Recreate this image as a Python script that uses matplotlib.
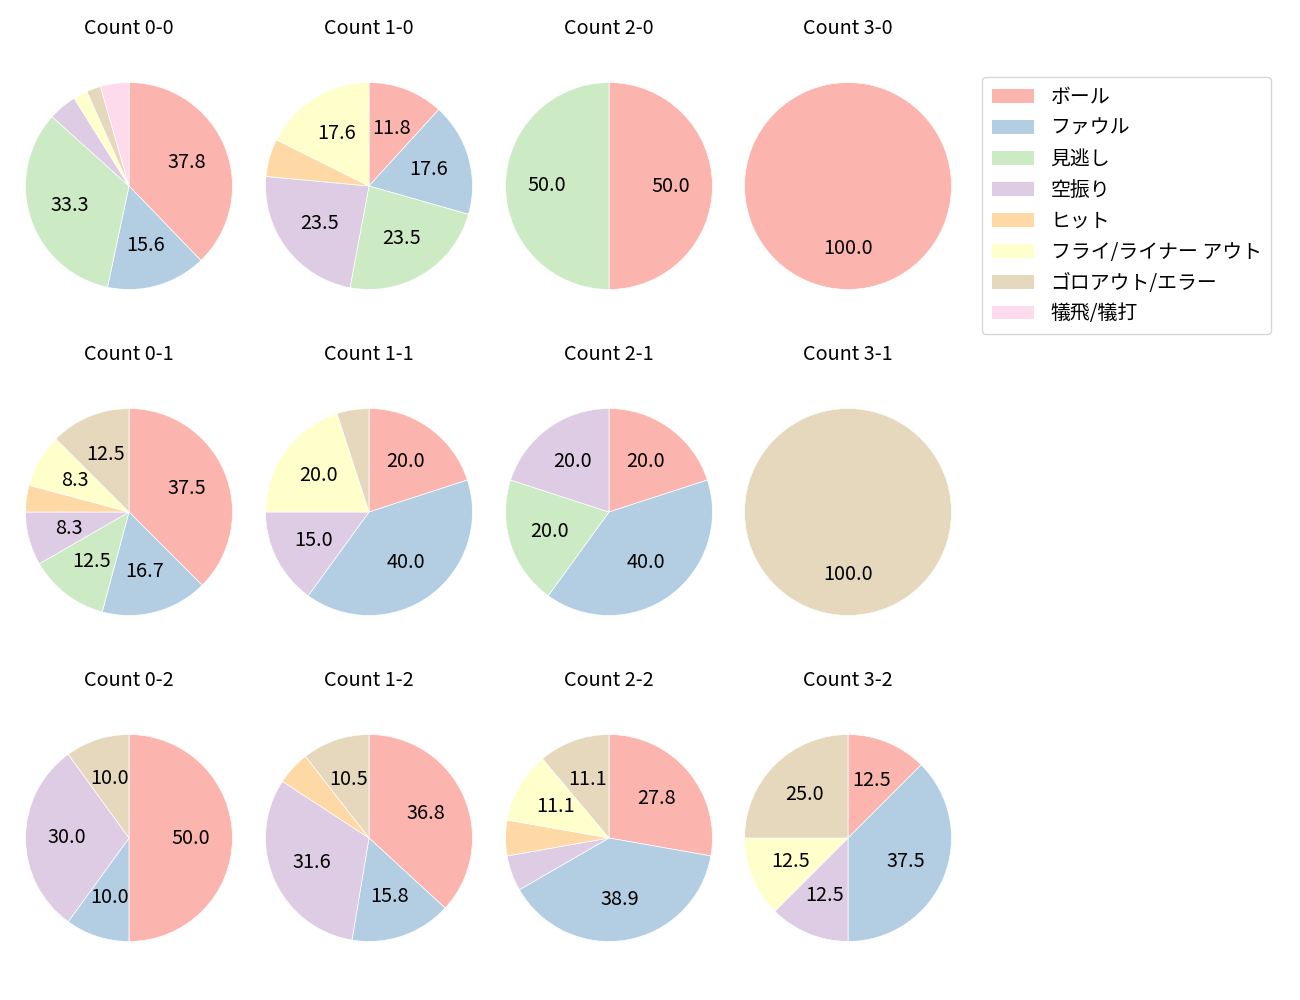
import matplotlib
matplotlib.use("Agg")
import matplotlib.pyplot as plt
import numpy as np

plt.rcParams['font.family'] = ['Noto Sans CJK JP', 'DejaVu Sans']

categories = ['ボール', 'ファウル', '見逃し', '空振り', 'ヒット',
              'フライ/ライナー アウト', 'ゴロアウト/エラー', '犠飛/犠打']

titles = ['Count 0-0', 'Count 1-0', 'Count 2-0', 'Count 3-0',
          'Count 0-1', 'Count 1-1', 'Count 2-1', 'Count 3-1',
          'Count 0-2', 'Count 1-2', 'Count 2-2', 'Count 3-2']

# counts per category (order as categories)
c_0_0 = [17, 7, 15, 2, 0, 1, 1, 2]
c_1_0 = [2, 3, 4, 4, 1, 3, 0, 0]
c_2_0 = [1, 0, 1, 0, 0, 0, 0, 0]
c_3_0 = [1, 0, 0, 0, 0, 0, 0, 0]
c_0_1 = [9, 4, 3, 2, 1, 2, 3, 0]
c_1_1 = [4, 8, 0, 3, 0, 4, 1, 0]
c_2_1 = [1, 2, 1, 1, 0, 0, 0, 0]
c_3_1 = [0, 0, 0, 0, 0, 0, 1, 0]
c_0_2 = [5, 1, 0, 3, 0, 0, 1, 0]
c_1_2 = [7, 3, 0, 6, 1, 0, 2, 0]
c_2_2 = [5, 7, 0, 1, 1, 2, 2, 0]
c_3_2 = [1, 3, 0, 1, 0, 1, 2, 0]

data = [c_0_0, c_1_0, c_2_0, c_3_0,
        c_0_1, c_1_1, c_2_1, c_3_1,
        c_0_2, c_1_2, c_2_2, c_3_2]

colors = plt.cm.Pastel1(np.arange(8))

W, H = 1300, 1000
fig = plt.figure(figsize=(13, 10), dpi=100)

xc = [129, 369, 609, 848]
yc = [186, 512, 838]
R = 103.5
S = 2.5 * R
FS = 14.3

def autopct(p):
    return f'{p:.1f}' if p >= 7 else ''

for i, (vals, t) in enumerate(zip(data, titles)):
    r, c = divmod(i, 4)
    cx, cy = xc[c], yc[r]
    ax = fig.add_axes([(cx - S / 2) / W, 1 - (cy + S / 2) / H, S / W, S / H])
    vals = np.array(vals, dtype=float)
    idx = [k for k in range(8) if vals[k] > 0]
    ax.pie(vals[idx], colors=[colors[k] for k in idx], startangle=90,
           counterclock=False, autopct=autopct, pctdistance=0.6,
           textprops={'fontsize': FS},
           wedgeprops={'linewidth': 0.5, 'edgecolor': 'white'})
    ax.set_title(t, fontsize=FS, pad=16)

handles = [matplotlib.patches.Patch(facecolor=colors[k]) for k in range(8)]
fig.legend(handles, categories, loc='upper left',
           bbox_to_anchor=(982 / W, 1 - 77 / H), borderaxespad=0, fontsize=FS,
           handlelength=2.1, handletextpad=0.85, borderpad=0.5, labelspacing=0.5)

fig.savefig('out.png', dpi=100)
